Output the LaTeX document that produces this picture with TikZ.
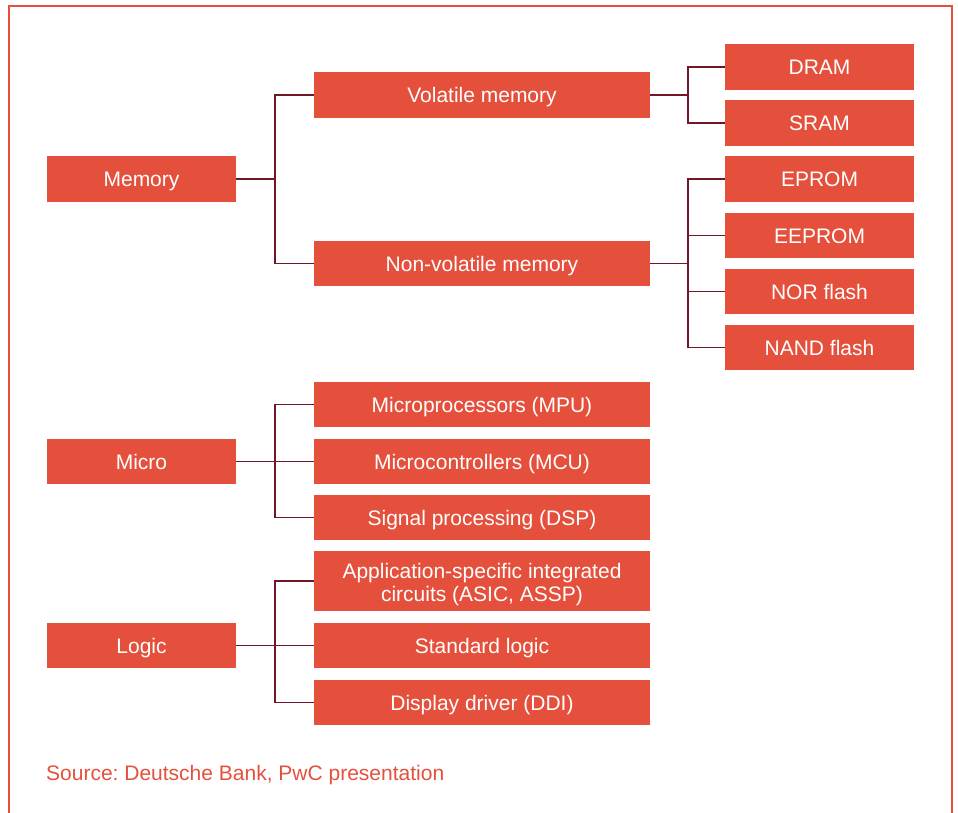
\documentclass[tikz,border=0pt]{standalone}
\usepackage{fontspec}
\setmainfont{Liberation Sans}
\frenchspacing
\definecolor{boxred}{RGB}{228,80,60}
\definecolor{linecol}{RGB}{112,24,38}
\begin{document}
\begin{tikzpicture}[x=1pt,y=-1pt,
  box/.style={fill=boxred, text=white, inner sep=0pt, align=center,
    font=\fontsize{21}{23}\selectfont, minimum height=45.5pt},
  one/.style={text height=15.2pt, text depth=0.2pt},
  lbox/.style={box, one, minimum width=189pt},
  mbox/.style={box, minimum width=336pt},
  rbox/.style={box, one, minimum width=189pt},
  conn/.style={draw=linecol, line width=1.6pt}]
\useasboundingbox (0,0) rectangle (958,813);
\draw[boxred, line width=1.8pt] (8.8,813) -- (8.8,6) -- (952,6) -- (952,813);
% left column
\node[lbox] (mem) at (141.5,178.8) {Memory};
\node[lbox] (micro) at (141.5,461.5) {Micro};
\node[lbox] (logic) at (141.5,645.5) {Logic};
% middle column
\node[mbox, one] (vol) at (482,94.8) {Volatile memory};
\node[mbox, one] (nvol) at (482,263.5) {Non-volatile memory};
\node[mbox, one] (mpu) at (482,404.5) {Microprocessors (MPU)};
\node[mbox, one] (mcu) at (482,461.5) {Microcontrollers (MCU)};
\node[mbox, one] (dsp) at (482,517.5) {Signal processing (DSP)};
\node[mbox, minimum height=60pt] (asic) at (482,581) {};
\node[text=white, inner sep=0pt, align=center, font=\fontsize{21}{23}\selectfont] (asictext) at ([yshift=-4pt]asic.center) {Application-specific integrated\\circuits (ASIC, ASSP)};
\node[mbox, one] (std) at (482,645.5) {Standard logic};
\node[mbox, one] (ddi) at (482,702.5) {Display driver (DDI)};
% right column
\node[rbox] (dram) at (819.5,66.8) {DRAM};
\node[rbox] (sram) at (819.5,122.8) {SRAM};
\node[rbox] (eprom) at (819.5,178.8) {EPROM};
\node[rbox] (eeprom) at (819.5,235.5) {EEPROM};
\node[rbox] (nor) at (819.5,291.5) {NOR flash};
\node[rbox] (nand) at (819.5,347.5) {NAND flash};
% source
\node[anchor=base west, text=boxred, inner sep=0pt, font=\fontsize{21}{23}\selectfont] (src) at (46,780.5) {Source: Deutsche Bank, PwC presentation};
% connectors
\coordinate (b1) at (275,178.8);
\draw[conn] (mem.east) -- (b1);
\draw[conn] (b1) |- (vol.west);
\draw[conn] (b1) |- (nvol.west);
\coordinate (b2) at (688,94.8);
\draw[conn] (vol.east) -- (b2);
\draw[conn] (b2) |- (dram.west);
\draw[conn] (b2) |- (sram.west);
\coordinate (b3) at (688,263.5);
\draw[conn] (nvol.east) -- (b3);
\draw[conn] (b3) |- (eprom.west);
\draw[conn] (b3) |- (eeprom.west);
\draw[conn] (b3) |- (nor.west);
\draw[conn] (b3) |- (nand.west);
\coordinate (b4) at (275,461.5);
\draw[conn] (micro.east) -- (b4);
\draw[conn] (b4) |- (mpu.west);
\draw[conn] (b4) |- (mcu.west);
\draw[conn] (b4) |- (dsp.west);
\coordinate (b5) at (275,645.5);
\draw[conn] (logic.east) -- (b5);
\draw[conn] (b5) |- (asic.west);
\draw[conn] (b5) |- (std.west);
\draw[conn] (b5) |- (ddi.west);
\end{tikzpicture}
\end{document}
